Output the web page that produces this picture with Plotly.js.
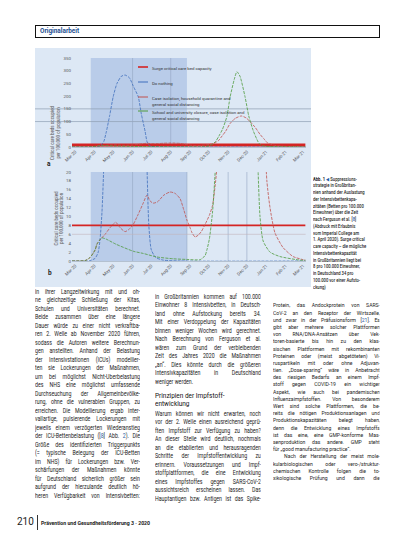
<!DOCTYPE html>
<html lang="de"><head><meta charset="utf-8">
<script src="https://cdn.plot.ly/plotly-3.0.1.min.js"></script>
<style>
html,body{margin:0;padding:0;background:#fff;}
#page{position:relative;width:413px;height:550px;overflow:hidden;background:#fff;}
#chart{position:absolute;left:0;top:0;width:413px;height:550px;}
.txt{position:absolute;font-family:Roboto,"Liberation Sans",sans-serif;color:#1c1c1c;transform-origin:0 0;}
.ln{text-align:justify;text-align-last:justify;overflow:hidden;white-space:normal;}
.ln.last{text-align-last:left;}
.rag .ln{text-align:left;text-align-last:left;}
.ref{color:#1f5ba8;}
#hdr{position:absolute;left:35px;top:25px;width:343px;height:11px;border:1px solid #111;}
#hdr span{position:absolute;left:4px;top:1px;font-family:Roboto,"Liberation Sans",sans-serif;font-weight:bold;font-size:6.4px;color:#1d4f91;}
#pg{position:absolute;left:17px;top:516px;font-family:Roboto,sans-serif;font-size:10px;color:#222;}
#bar{position:absolute;left:37px;top:515px;width:1px;height:15px;background:#333;}
#jn{position:absolute;left:41px;top:520px;font-family:Roboto,sans-serif;font-size:5.2px;font-weight:bold;color:#222;}
</style></head>
<body><div id="page"><div id="chart"></div>
<div id="hdr"><span>Originalarbeit</span></div>
<div id="pg">210</div><div id="bar"></div><div id="jn">Prävention und Gesundheitsförderung 3 · 2020</div>
</div>
<script>
// ---------- DATA ----------
const monthTicks = ['2020-03-01','2020-04-01','2020-05-01','2020-06-01','2020-07-01','2020-08-01','2020-09-01','2020-10-01','2020-11-01','2020-12-01','2021-01-01','2021-02-01','2021-03-01'];
const monthLabels = ['Mar-20','Apr-20','May-20','Jun-20','Jul-20','Aug-20','Sep-20','Oct-20','Nov-20','Dec-20','Jan-21','Feb-21','Mar-21'];
const yTicksA = [0,50,100,150,200,250,300,350];
const yTicksB = [0,2,4,6,8,10,12,14,16,18,20];

const surgeDates = ['2020-02-25','2021-03-05'];
const surgeCapacity = [8,8];

const doNothingDates = ['2020-02-25','2020-03-25','2020-04-02','2020-04-07','2020-04-10','2020-04-13','2020-04-16','2020-04-20','2020-04-25','2020-05-01','2020-05-07','2020-05-14','2020-05-20','2020-05-27','2020-06-02','2020-06-10','2020-06-15','2020-06-21','2020-06-24','2020-06-27','2020-07-01','2020-07-08','2020-07-20','2020-08-15','2021-03-05'];
const doNothing = [0,0.1,0.6,2,5,11,22,60,120,198,250,278,283,272,240,198,130,62,22,8,2.5,0.8,0.2,0,0];

const caseIsolationDates = ['2020-02-25','2020-03-17','2020-03-25','2020-04-02','2020-04-05','2020-04-10','2020-04-18','2020-04-26','2020-05-05','2020-05-12','2020-05-20','2020-05-27','2020-06-02','2020-06-10','2020-06-18','2020-06-24','2020-06-29','2020-07-04','2020-07-11','2020-07-21','2020-07-31','2020-08-08','2020-08-16','2020-08-22','2020-08-27','2020-09-01','2020-09-04','2020-09-09','2020-09-14','2020-09-19','2020-09-25','2020-10-02','2020-10-07','2020-10-12','2020-10-17','2020-10-20','2020-10-28','2020-11-04','2020-11-12','2020-11-22','2020-11-30','2020-12-06','2020-12-14','2020-12-22','2020-12-29','2021-01-02','2021-01-07','2021-01-15','2021-01-28','2021-02-13','2021-03-01','2021-03-05'];
const caseIsolation = [0,0.1,0.8,2.5,3.8,4.8,6,7.5,8.7,7.5,6.6,7.2,8.2,10.5,13,14.8,13.5,13,13.3,14.8,15.5,15.2,14,11.5,9.2,7.5,6.4,5.4,5.8,6.6,8.2,10.3,12.5,18,26,36,62,92,112,122,114,100,78,50,30,18,12,6.3,3,1,0.3,0.2];

const schoolClosureDates = ['2020-02-25','2020-03-17','2020-03-25','2020-04-02','2020-04-05','2020-04-10','2020-04-13','2020-04-20','2020-05-05','2020-06-02','2020-06-18','2020-07-10','2020-08-05','2020-08-27','2020-09-17','2020-09-25','2020-09-28','2020-10-02','2020-10-07','2020-10-12','2020-10-17','2020-10-23','2020-10-30','2020-11-04','2020-11-11','2020-11-15','2020-11-20','2020-11-28','2020-12-04','2020-12-11','2020-12-17','2020-12-19','2020-12-22','2020-12-27','2021-01-07','2021-01-23','2021-02-24','2021-03-05'];
const schoolClosure = [0,0.1,0.8,2.5,3.8,4.8,5.2,4.9,3.8,2.2,1.7,0.9,0.5,0.35,0.3,1.2,2.5,5,11,22,42,70,120,195,268,296,278,198,122,65,30,20,10,4.5,2,1,0.2,0.15];

const interventionPeriod = ['2020-03-26','2020-08-27'];
const legendLabels = ['Surge critical care bed capacity','Do nothing','Case isolation, household quarantine and<br>general social distancing','School and university closure, case isolation and<br>general social distancing'];
const yTitle = 'Critical care beds occupied<br>per 100,000 of population';

// ---------- CHART ----------
const W=413,H=550;
const px=x=>x/W, py=y=>1-y/H;
const C = {surge:'#d42424', blue:'#3f6fbd', red:'#c0504d', green:'#4e9a3c'};
const DASH='3px,1.2px';
function tr(x,y,color,width,dash,xa,ya){
  return {type:'scatter',mode:'lines',x:x,y:y,xaxis:xa,yaxis:ya,hoverinfo:'skip',
    line:{color:color,width:width,dash:dash,shape:'spline',smoothing:0.6}};
}
const traces=[
  tr(surgeDates,surgeCapacity,C.surge,3,'solid','x','y'),
  tr(doNothingDates,doNothing,C.blue,0.8,DASH,'x','y'),
  tr(caseIsolationDates,caseIsolation,C.red,0.8,DASH,'x','y'),
  tr(schoolClosureDates,schoolClosure,C.green,0.8,DASH,'x','y'),
  tr(surgeDates,surgeCapacity,C.surge,1.8,'solid','x2','y2'),
  tr(doNothingDates,doNothing,C.blue,0.8,DASH,'x2','y2'),
  tr(caseIsolationDates,caseIsolation,C.red,0.8,DASH,'x2','y2'),
  tr(schoolClosureDates,schoolClosure,C.green,0.8,DASH,'x2','y2')
];
const xdom=[px(72),px(305.6)];
function xa(anchor){return {type:'date',domain:xdom,range:['2020-02-25','2021-03-05'],tickmode:'array',tickvals:monthTicks,ticktext:monthLabels,
  tickangle:-45,tickfont:{size:4.4,color:'#555'},showgrid:false,zeroline:false,showline:true,linecolor:'#9aa7b8',linewidth:0.6,ticks:'',anchor:anchor,fixedrange:true};}
function ya(anchor,dom,rng,tv){return {domain:dom,range:rng,tickmode:'array',tickvals:tv,ticktext:tv.map(String),tickfont:{size:4.4,color:'#555'},
  showgrid:false,zeroline:false,showline:false,ticks:'',anchor:anchor,fixedrange:true};}

const shapes=[
  {type:'rect',xref:'paper',yref:'paper',x0:px(35),x1:px(311),y0:py(287),y1:py(48),fillcolor:'#dde8f5',line:{width:0},layer:'below'},
  {type:'rect',xref:'x',yref:'y domain',x0:interventionPeriod[0],x1:interventionPeriod[1],y0:0,y1:1,fillcolor:'#b9cce9',line:{width:0},layer:'below'},
  {type:'rect',xref:'x2',yref:'y2 domain',x0:interventionPeriod[0],x1:interventionPeriod[1],y0:0,y1:1,fillcolor:'#b9cce9',line:{width:0},layer:'below'}
];
[150,100].forEach(v=>shapes.push({type:'line',xref:'paper',yref:'y',x0:px(35),x1:px(311),y0:v,y1:v,line:{color:'#8e9db2',width:0.7},layer:'below'}));
['2020-06-01','2020-08-01'].forEach(d=>shapes.push({type:'line',xref:'x',yref:'y domain',x0:d,x1:d,y0:0,y1:1,line:{color:'#93a6c2',width:0.6},layer:'below'}));
['2020-06-01','2020-08-27','2020-11-01','2020-12-01'].forEach(d=>shapes.push({type:'line',xref:'x2',yref:'y2 domain',x0:d,x1:d,y0:0,y1:1,line:{color:'#93a6c2',width:0.6},layer:'below'}));
shapes.push({type:'line',xref:'x2 domain',yref:'y2',x0:0,x1:1,y0:6,y1:6,line:{color:'#c2b3bb',width:0.6},layer:'below'});

const annotations=[];
const legY=[67,82,97,111];
const legCol=[C.surge,C.blue,C.red,C.green];
legY.forEach((y,i)=>{
  shapes.push({type:'line',xref:'paper',yref:'paper',x0:px(138),x1:px(148),y0:py(y),y1:py(y),line:{color:legCol[i],width:i===0?1.6:1}});
  annotations.push({xref:'paper',yref:'paper',x:px(149.5),y:py(y-2.6),xanchor:'left',yanchor:'top',align:'left',showarrow:false,
    text:legendLabels[i],font:{size:4.3,color:'#333'}});
});
annotations.push({xref:'paper',yref:'paper',x:px(48),y:py(103),textangle:-90,showarrow:false,text:yTitle,font:{size:4.5,color:'#555'}});
annotations.push({xref:'paper',yref:'paper',x:px(51),y:py(218),textangle:-90,showarrow:false,text:yTitle,font:{size:4.5,color:'#555'}});
annotations.push({xref:'paper',yref:'paper',x:px(45),y:py(158),showarrow:false,text:'<b>a</b>',font:{size:6.5,color:'#222'}});
annotations.push({xref:'paper',yref:'paper',x:px(46),y:py(273),showarrow:false,text:'<b>b</b>',font:{size:6.5,color:'#222'}});

const layout={width:W,height:H,margin:{l:0,r:0,t:0,b:0},paper_bgcolor:'rgba(0,0,0,0)',plot_bgcolor:'rgba(0,0,0,0)',showlegend:false,
  font:{family:'Roboto, Liberation Sans, sans-serif',size:4.5,color:'#555'},
  xaxis:xa('y'),yaxis:ya('x',[py(147),py(58)],[0,350],yTicksA),
  xaxis2:xa('y2'),yaxis2:ya('x2',[py(261),py(172)],[0,20],yTicksB),
  shapes:shapes,annotations:annotations};
Plotly.newPlot('chart',traces,layout,{staticPlot:true,displayModeBar:false});

// ---------- PAGE TEXT ----------
const captionLines=['<b>Abb. 1</b> <span class="ref">◀</span> Suppressions-','strategie in Großbritan-','nien anhand der Auslastung','der Intensivbettenkapa-','zitäten (Betten pro 100.000','Einwohner) über die Zeit','nach Ferguson et al. [<span class="ref">8</span>]','(Abdruck mit Erlaubnis','vom Imperial College am','1. April 2020). Surge critical','care capacity – die mögliche','Intensivbettenkapazität','in Großbritannien liegt bei','8 pro 100.000 Einwohner,','in Deutschland 34 pro','100.000 vor einer Aufsto-','ckung)'];
const col1Lines=['in ihrer Langzeitwirkung mit und oh-','ne gleichzeitige Schließung der Kitas,','Schulen und Universitäten berechnet.','Beide zusammen über eine längere','Dauer würde zu einer nicht verkraftba-','ren 2. Welle ab November 2020 führen,','sodass die Autoren weitere Berechnun-','gen anstellten. Anhand der Belastung','der Intensivstationen (ICUs) modellier-','ten sie Lockerungen der Maßnahmen,','um bei möglichst Nicht-Überbelastung','des NHS eine möglichst umfassende','Durchseuchung der Allgemeinbevölke-','rung, ohne die vulnerablen Gruppen, zu','erreichen. Die Modellierung ergab inter-','vallartige, pulsierende Lockerungen mit','jeweils einem verzögerten Wiederanstieg','der ICU-Bettenbelastung ([<span class="ref">8</span>] Abb. <span class="ref">2</span>). Die','Größe des identifizierten Triggerpunkts','(= typische Belegung der ICU-Betten','im NHS) für Lockerungen bzw. Ver-','schärfungen der Maßnahmen könnte','für Deutschland sicherlich größer sein','aufgrund der hierzulande deutlich hö-','heren Verfügbarkeit von Intensivbetten:'];
const col2aLines=['in Großbritannien kommen auf 100.000','Einwohner 8 Intensivbetten, in Deutsch-','land ohne Aufstockung bereits 34.','Mit einer Verdoppelung der Kapazitäten','binnen weniger Wochen wird gerechnet.','Nach Berechnung von Ferguson et al.','wären zum Grund der verbleibenden','Zeit des Jahres 2020 die Maßnahmen','„an“. Dies könnte durch die größeren','Intensivkapazitäten in Deutschland','~weniger werden.'];
const headingLines=['~Prinzipien der Impfstoff-','~entwicklung'];
const col2bLines=['Warum können wir nicht erwarten, noch','vor der 2. Welle einen ausreichend geprü-','ften Impfstoff zur Verfügung zu haben?','An dieser Stelle wird deutlich, nochmals','an die etablierten und herausragenden','Schritte der Impfstoffentwicklung zu','erinnern. Voraussetzungen und Impf-','stoffplattformen, die eine Entwicklung','eines Impfstoffes gegen SARS-CoV-2','aussichtsreich erscheinen lassen. Das','Hauptantigen bzw. Antigen ist das Spike-'];
const col3Lines=['Protein, das Andockprotein von SARS-','CoV-2 an den Rezeptor der Wirtszelle,','und zwar in der Präfusionsform [<span class="ref">21</span>]. Es','gibt aber mehrere solcher Plattformen','von RNA/DNA-Ansätzen über Vek-','toren-basierte bis hin zu den klas-','sischen Plattformen mit rekombinanten','Proteinen oder (meist abgetöteten) Vi-','ruspartikeln mit oder ohne Adjuvan-','tien. „Dose-sparing“ wäre in Anbetracht','des riesigen Bedarfs an einem Impf-','stoff gegen COVID-19 ein wichtiger','Aspekt, wie auch bei pandemischen','Influenzaimpfstoffen. Von besonderem','Wert sind solche Plattformen, die be-','reits die nötigen Produktionsanlagen und','Produktionskapazitäten belegt haben,','denn die Entwicklung eines Impfstoffs','ist das eine, eine GMP-konforme Mas-','senproduktion das andere. GMP steht','~für „good manufacturing practice“.','&nbsp;&nbsp;&nbsp;Nach der Herstellung der meist mole-','kularbiologischen oder vero-/struktur-','chemischen Kontrolle folgen die to-','xikologische Prüfung und dann die'];

const page=document.getElementById('page');
function block(lines,o){
  const d=document.createElement('div');d.className='txt'+(o.rag?' rag':'');
  d.style.left=o.left+'px';d.style.top=(o.top-o.lead/2)+'px';d.style.width=(o.width/o.sx)+'px';
  d.style.fontSize=o.size+'px';d.style.lineHeight=o.lead+'px';d.style.transform='scaleX('+o.sx+')';
  if(o.color)d.style.color=o.color;
  if(o.weight)d.style.fontWeight=o.weight;
  lines.forEach(t=>{const e=document.createElement('div');let last=false;
    if(t.charAt(0)==='~'){last=true;t=t.slice(1);}
    e.className='ln'+(last?' last':'');e.style.height=o.lead+'px';e.innerHTML=t;d.appendChild(e);});
  page.appendChild(d);
}
block(captionLines,{left:313,top:179,width:70,lead:6.75,size:5.2,sx:0.8,rag:true,weight:500});
block(col1Lines,{left:35,top:292,width:105,lead:8.5,size:6.4,sx:0.82});
block(col2aLines,{left:155,top:297,width:106,lead:8.5,size:6.4,sx:0.82});
block(headingLines,{left:155,top:396,width:106,lead:8.8,size:7.6,sx:0.85,color:'#111'});
block(col2bLines,{left:155,top:414,width:106,lead:8.5,size:6.4,sx:0.82});
block(col3Lines,{left:273,top:306,width:107,lead:7.2,size:6.2,sx:0.82});
</script>
</body></html>
